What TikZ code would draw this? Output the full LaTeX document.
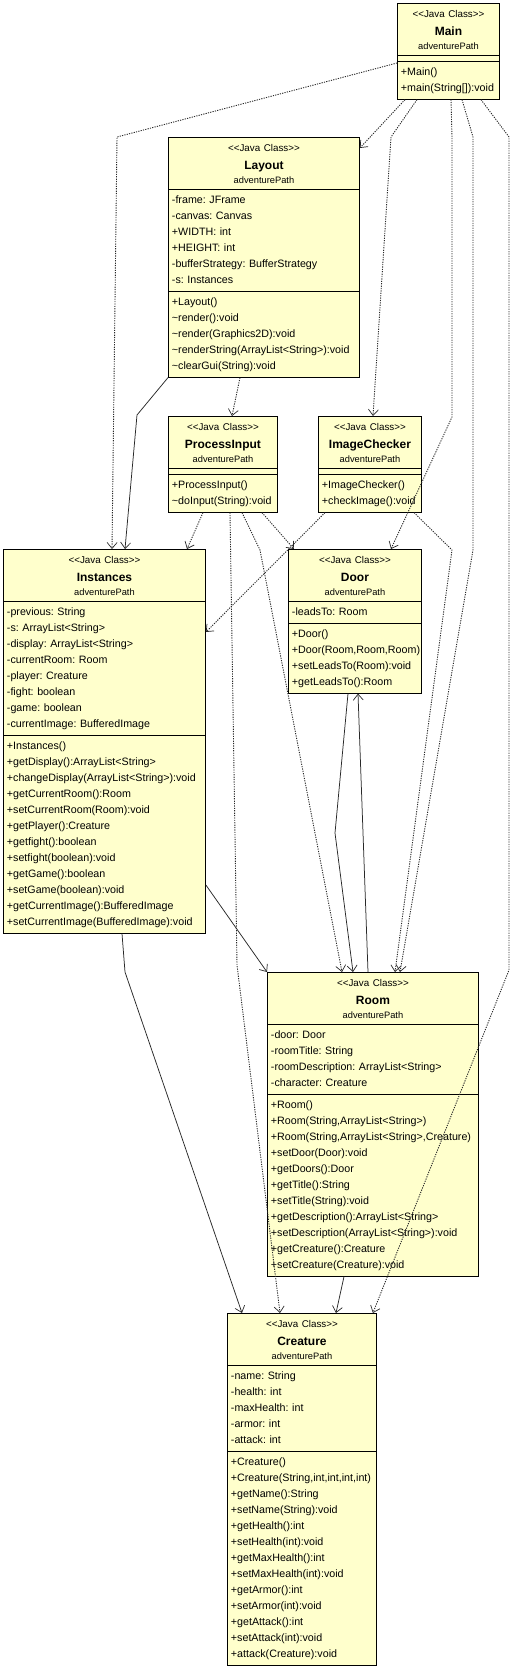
\documentclass[tikz,border=0pt]{standalone}
\usepackage{fontspec}
\setmainfont{Liberation Sans}
\usepackage{tikz}
\usetikzlibrary{arrows.meta,shapes.multipart}

\definecolor{classfill}{RGB}{255,255,204}
\definecolor{linkgray}{RGB}{40,40,40}
\frenchspacing

\newcommand{\jhead}[1]{\centering\fontsize{9.8}{14}\selectfont\rule{0pt}{11.5pt}<{}<Java Class>{}>\\[4pt]%
  {\fontsize{12}{14}\selectfont\bfseries #1}\\{\fontsize{9.3}{14}\selectfont adventurePath}\rule[-2.5pt]{0pt}{2.5pt}\par}
\newcommand{\jlist}[1]{\raggedright\strut#1\strut\par}

\tikzset{
  jclass/.style={rectangle split, rectangle split parts=3, draw, line width=0.9pt,
    fill=classfill, anchor=north west, inner xsep=3.5pt, inner ysep=2.5pt, text width=#1,
    font=\fontsize{10.7}{16}\selectfont,
    rectangle split empty part height=0pt, rectangle split empty part depth=0pt},
  uses/.style={->, linkgray, line width=0.9pt, dash pattern=on 1.2pt off 1.2pt},
  has/.style={->, linkgray, line width=0.75pt}
}

\begin{document}
\begin{tikzpicture}[x=1pt, y=-1pt, >={Straight Barb[length=6pt,width=10pt,line width=0.7pt]}]
    \useasboundingbox (0,0) rectangle (510,1666);

    \node[jclass=95] (Main) at (397,3) {\jhead{Main}
      \nodepart{second}
      \nodepart{third}\jlist{+Main()\\+main(String[]):void}};

    \node[jclass=184] (Layout) at (168,137) {\jhead{Layout}
      \nodepart{second}\jlist{-frame: JFrame\\-canvas: Canvas\\+WIDTH: int\\+HEIGHT: int\\-bufferStrategy: BufferStrategy\\-s: Instances}
      \nodepart{third}\jlist{+Layout()\\\textasciitilde render():void\\\textasciitilde render(Graphics2D):void\\\textasciitilde renderString(ArrayList<String>):void\\\textasciitilde clearGui(String):void}};

    \node[jclass=102] (ProcessInput) at (168,416) {\jhead{ProcessInput}
      \nodepart{second}
      \nodepart{third}\jlist{+ProcessInput()\\\textasciitilde doInput(String):void}};

    \node[jclass=96] (ImageChecker) at (318,416) {\jhead{ImageChecker}
      \nodepart{second}
      \nodepart{third}\jlist{+ImageChecker()\\+checkImage():void}};

    \node[jclass=195] (Instances) at (3,549) {\jhead{Instances}
      \nodepart{second}\jlist{-previous: String\\-s: ArrayList<String>\\-display: ArrayList<String>\\-currentRoom: Room\\-player: Creature\\-fight: boolean\\-game: boolean\\-currentImage: BufferedImage}
      \nodepart{third}\jlist{+Instances()\\+getDisplay():ArrayList<String>\\+changeDisplay(ArrayList<String>):void\\+getCurrentRoom():Room\\+setCurrentRoom(Room):void\\+getPlayer():Creature\\+getfight():boolean\\+setfight(boolean):void\\+getGame():boolean\\+setGame(boolean):void\\+getCurrentImage():BufferedImage\\+setCurrentImage(BufferedImage):void}};

    \node[jclass=126] (Door) at (288,549) {\jhead{Door}
      \nodepart{second}\jlist{-leadsTo: Room}
      \nodepart{third}\jlist{+Door()\\+Door(Room,Room,Room)\\+setLeadsTo(Room):void\\+getLeadsTo():Room}};

    \node[jclass=204] (Room) at (267,972) {\jhead{Room}
      \nodepart{second}\jlist{-door: Door\\-roomTitle: String\\-roomDescription: ArrayList<String>\\-character: Creature}
      \nodepart{third}\jlist{+Room()\\+Room(String,ArrayList<String>)\\+Room(String,ArrayList<String>,Creature)\\+setDoor(Door):void\\+getDoors():Door\\+getTitle():String\\+setTitle(String):void\\+getDescription():ArrayList<String>\\+setDescription(ArrayList<String>):void\\+getCreature():Creature\\+setCreature(Creature):void}};

    \node[jclass=142] (Creature) at (227,1313) {\jhead{Creature}
      \nodepart{second}\jlist{-name: String\\-health: int\\-maxHealth: int\\-armor: int\\-attack: int}
      \nodepart{third}\jlist{+Creature()\\+Creature(String,int,int,int,int)\\+getName():String\\+setName(String):void\\+getHealth():int\\+setHealth(int):void\\+getMaxHealth():int\\+setMaxHealth(int):void\\+getArmor():int\\+setArmor(int):void\\+getAttack():int\\+setAttack(int):void\\+attack(Creature):void}};

    \draw[uses] ([yshift=-60pt]Main.north west) -- (117,137) -- ([xshift=109pt]Instances.north west);
    \draw[uses] ([xshift=8pt]Main.south west) -- ([yshift=-11pt]Layout.north east);
    \draw[uses] ([xshift=20pt]Main.south west) -- (391,137) -- ([xshift=55pt]ImageChecker.north west);
    \draw[uses] ([xshift=54pt]Main.south west) -- (452,137) -- (452,417) -- ([xshift=103pt]Door.north west);
    \draw[uses] ([xshift=65pt]Main.south west) -- (473,137) -- (473,550) -- ([xshift=133pt]Room.north west);
    \draw[uses] ([xshift=84pt]Main.south west) -- (509,137) -- (509,970) -- ([xshift=-4pt]Creature.north east);

    \draw[has] (Layout.south west) -- (137,415) -- ([xshift=122pt]Instances.north west);
    \draw[uses] ([xshift=72pt]Layout.south west) -- ([xshift=64pt]ProcessInput.north west);

    \draw[uses] ([xshift=35pt]ProcessInput.south west) -- ([xshift=184pt]Instances.north west);
    \draw[uses] ([xshift=62pt]ProcessInput.south west) -- (237,965) -- ([xshift=53pt]Creature.north west);
    \draw[uses] ([xshift=74pt]ProcessInput.south west) -- (260,550) -- ([xshift=75pt]Room.north west);
    \draw[uses] ([xshift=94pt]ProcessInput.south west) -- ([xshift=6pt]Door.north west);

    \draw[uses] ([xshift=7pt]ImageChecker.south west) -- ([yshift=-83pt]Instances.north east);
    \draw[uses] ([xshift=96pt]ImageChecker.south west) -- (452,550) -- ([xshift=128pt]Room.north west);

    \draw[has] ([yshift=-336pt]Instances.north east) -- (Room.north west);
    \draw[has] ([xshift=119pt]Instances.south west) -- (125,972) -- ([xshift=15pt]Creature.north west);
    \draw[has] ([xshift=60pt]Door.south west) -- (335,833) -- ([xshift=86pt]Room.north west);
    \draw[has] ([xshift=101pt]Room.north west) -- ([xshift=70pt]Door.south west);
    \draw[has] ([xshift=77pt]Room.south west) -- ([xshift=109pt]Creature.north west);
\end{tikzpicture}
\end{document}
